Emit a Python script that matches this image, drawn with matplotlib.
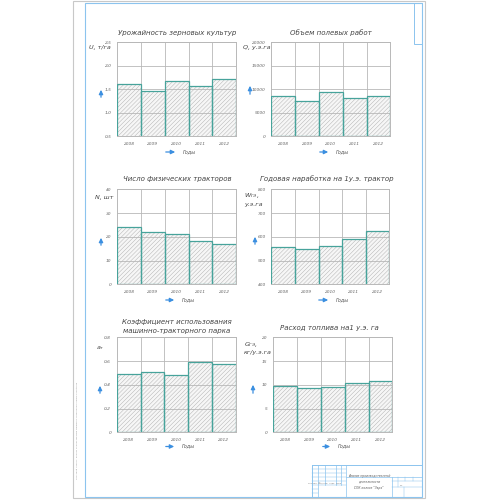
import matplotlib
matplotlib.use("Agg")
import matplotlib.pyplot as plt
from matplotlib.patches import Rectangle, FancyArrowPatch
from matplotlib.lines import Line2D

plt.rcParams['font.family'] = ['DejaVu Sans']
plt.rcParams['hatch.linewidth'] = 0.3

years = ["2008", "2009", "2010", "2011", "2012"]

yield_vals = [1.60, 1.47, 1.67, 1.56, 1.71]
field_work = [8480, 7490, 9400, 8060, 8480]
tractors = [24.0, 22.0, 21.0, 18.1, 16.8]
annual_output = [556, 547, 560, 590, 624]
usage_coef = [0.488, 0.505, 0.485, 0.592, 0.573]
fuel_use = [9.75, 9.26, 9.47, 10.3, 10.8]

titles = ["Урожайность зерновых культур", "Объем полевых работ",
          "Число физических тракторов", "Годовая наработка на 1у.э. трактор",
          "Коэффициент использования\nмашинно-тракторного парка",
          "Расход топлива на1 у.э. га"]
ylabels = ["U, т/га", "Q, у.э.га", "N, шт", "W$_{ГЭ}$,\nу.э.га", "a$_т$",
           "G$_{ГЭ}$,\nкг/у.э.га"]
xlabel = "Годы"
yticks = [[0.5, 1.0, 1.5, 2.0, 2.5], [0, 5000, 10000, 15000, 20000],
          [0, 10, 20, 30, 40], [400, 500, 600, 700, 800],
          [0, 0.2, 0.4, 0.6, 0.8], [0, 5, 10, 15, 20]]
ytick_labels = [["0,5", "1,0", "1,5", "2,0", "2,5"],
                ["0", "5000", "10000", "15000", "20000"],
                ["0", "10", "20", "30", "40"],
                ["400", "500", "600", "700", "800"],
                ["0", "0,2", "0,4", "0,6", "0,8"],
                ["0", "5", "10", "15", "20"]]
data = [yield_vals, field_work, tractors, annual_output, usage_coef, fuel_use]

W = H = 500.0
fig = plt.figure(figsize=(5, 5), dpi=100)
fig.patch.set_facecolor("white")

def fx(x):
    return x / W

def fy(y):
    return 1 - y / H

# sheet frames
fig.add_artist(Rectangle((fx(73), fy(498)), fx(425) - fx(73), fy(0.5) - fy(498),
                         transform=fig.transFigure, fill=False, ec="#c8c8c8", lw=0.8))
blue = "#8cc4ee"
fig.add_artist(Rectangle((fx(85), fy(496.5)), fx(422) - fx(85), fy(3) - fy(496.5),
                         transform=fig.transFigure, fill=False, ec=blue, lw=0.8))
fig.add_artist(Rectangle((fx(414), fy(44)), fx(422) - fx(414), fy(3) - fy(44),
                         transform=fig.transFigure, fill=False, ec=blue, lw=0.7))

# axes positions in pixels (left, top, right, bottom)
boxes = [(117.3, 42, 236, 136.3), (271.3, 42, 390.3, 136.3),
         (117.3, 189.3, 236, 284.3), (271.3, 189.3, 389.3, 284.3),
         (116.7, 337.3, 235.7, 432.3), (273.3, 337.3, 392.3, 432.3)]
title_pos = [(177, 33), (331, 33), (177, 179), (327, 179), (177, 326.5), (329, 328)]
ylab_pos = [(89, 48), (243, 48), (95, 197), (244, 199), (96, 348), (244, 347.5)]
uparrow = [(101, 100, 87), (250, 97, 83), (101, 248, 235), (255, 247, 234),
           (100, 396, 383), (253, 396, 382)]
xarrow = [(163, 178, 152), (317, 331, 152), (163, 177, 300), (316, 331, 300),
          (163, 177, 446.5), (320, 333, 446.5)]

teal = "#47a39b"
gridc = "#b8b8b8"
for i in range(6):
    l, t, r, b = boxes[i]
    ax = fig.add_axes([fx(l), fy(b), fx(r) - fx(l), fy(t) - fy(b)])
    x = list(range(len(years)))
    ax.bar(x, data[i], width=1.0, color="#f6f6f6", edgecolor="#aaaaaa",
           hatch="////////", linewidth=0, zorder=1)
    ax.bar(x, data[i], width=1.0, fill=False, edgecolor=teal, linewidth=0.9,
           zorder=3)
    ax.set_xlim(-0.5, 4.5)
    ax.set_ylim(yticks[i][0], yticks[i][-1])
    ax.set_yticks(yticks[i])
    ax.set_yticklabels(ytick_labels[i])
    ax.set_xticks(x)
    ax.set_xticklabels(years)
    ax.set_xticks([0.5, 1.5, 2.5, 3.5], minor=True)
    ax.grid(True, axis="y", which="major", color=gridc, lw=0.6, zorder=2)
    ax.grid(True, axis="x", which="minor", color=gridc, lw=0.6, zorder=2)
    ax.grid(False, axis="x", which="major")
    ax.set_axisbelow(False)
    ax.tick_params(length=0, which="both", labelsize=3.2, labelcolor="#666666",
                   pad=4)
    for lab in ax.get_xticklabels() + ax.get_yticklabels():
        lab.set_fontstyle("italic")
    for s in ax.spines.values():
        s.set_color(gridc)
        s.set_linewidth(0.7)
    ax.set_facecolor("white")

    tx, ty = title_pos[i]
    fig.text(fx(tx), fy(ty), titles[i], ha="center", va="center", fontsize=5.0,
             style="italic", color="#444444", linespacing=1.5)
    lx, ly = ylab_pos[i]
    fig.text(fx(lx), fy(ly), ylabels[i], ha="left", va="center", fontsize=4.6,
             style="italic", color="#444444", linespacing=1.4)
    ax_x, y0, y1 = uparrow[i]
    fig.add_artist(FancyArrowPatch(
        (fx(ax_x), fy(y0)), (fx(ax_x), fy(y1)), transform=fig.transFigure,
        arrowstyle="-|>,head_length=2.5,head_width=1.2", color="#3b8fe0",
        lw=0.9, mutation_scale=1))
    x0, x1, yy = xarrow[i]
    fig.add_artist(FancyArrowPatch(
        (fx(x0), fy(yy)), (fx(x1), fy(yy)), transform=fig.transFigure,
        arrowstyle="-|>,head_length=2.5,head_width=1.2", color="#3b8fe0",
        lw=0.9, mutation_scale=1))
    fig.text(fx(x1 + 5), fy(yy - 0.5), xlabel, ha="left", va="center",
             fontsize=3.6, style="italic", color="#555555")

# title block
tb_l, tb_t, tb_r, tb_b = 312, 465, 422, 496.5
def hline(x0, x1, y, c=blue, lw=0.5):
    fig.add_artist(Line2D([fx(x0), fx(x1)], [fy(y), fy(y)],
                          transform=fig.transFigure, color=c, lw=lw))
def vline(x, y0, y1, c=blue, lw=0.5):
    fig.add_artist(Line2D([fx(x), fx(x)], [fy(y0), fy(y1)],
                          transform=fig.transFigure, color=c, lw=lw))

hline(tb_l, tb_r, tb_t, lw=0.7)
vline(tb_l, tb_t, tb_b, lw=0.7)
for y in [469, 473, 477, 481, 485]:
    hline(tb_l, 346, y, lw=0.35)
for y in [489, 493]:
    hline(tb_l, 318, y, lw=0.35)
for xv in [318, 325, 336, 341, 346]:
    vline(xv, tb_t, tb_b if xv in (318, 346) else 485, lw=0.5)
vline(392, 477, tb_b, lw=0.5)
hline(346, tb_r, 477, lw=0.5)
hline(392, tb_r, 481, lw=0.35)
hline(392, tb_r, 487, lw=0.35)
vline(398, 477, 487, lw=0.35)
vline(405, 477, 481, lw=0.35)
vline(413, 477, 481, lw=0.35)
vline(404, 487, tb_b, lw=0.35)
fig.text(fx(369), fy(482), "Анализ производственной\nдеятельности\nСПК колхоз \"Заря\"",
         ha="center", va="center", fontsize=2.2, style="italic",
         color="#555555", linespacing=1.5)
fig.text(fx(324), fy(483.5), "Изм Лист  № докум.  Подп.  Дата",
         ha="center", va="center", fontsize=1.4, color="#777777")
fig.text(fx(400), fy(485), "1:1", ha="left", va="center", fontsize=1.6,
         color="#777777")

# margin vertical text
fig.text(fx(77), fy(430), "Курсовой проект: анализ использования машинно-тракторного парка хозяйства",
         rotation=90, ha="center", va="center", fontsize=1.6, color="#999999")

fig.savefig("out.png", dpi=100, facecolor="white")
